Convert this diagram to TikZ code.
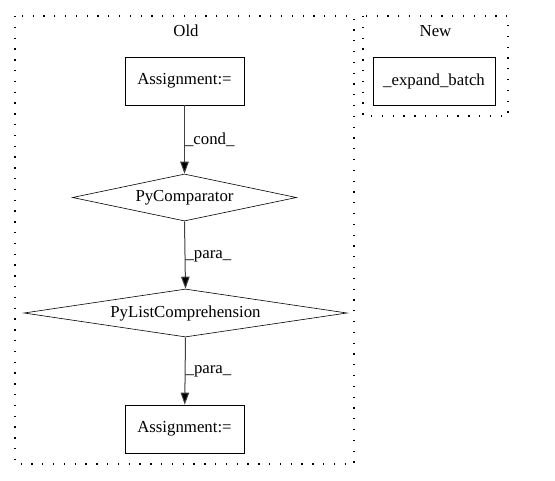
\documentclass[tikz,border=0pt]{standalone}
\usepackage{fontspec}
\setmainfont{Liberation Serif}
\usetikzlibrary{shapes.geometric, arrows.meta}
\tikzstyle{arrow} = [line width=1pt,draw=black!75,-{Triangle[length=12pt,width=8.5pt,fill=black]}]
\tikzstyle{box} = [draw,thick,rectangle,minimum width=119pt,minimum height=48pt,inner sep=0pt]
\tikzstyle{cluster} = [line width=1.3pt,dash pattern=on 1.3pt off 9.5pt]

\begin{document}
\begin{tikzpicture}[x=1pt,y=-1pt,font=\fontsize{16.8pt}{19pt}\selectfont]
            \useasboundingbox (0,0) rectangle (555,480);
            \draw [cluster] (15,16) rectangle (354,464);
            \draw [cluster] (363,16) rectangle (508,116);
            \node (old) at (186,31) {Old};
            \node (new) at (435.5,31) {New};
            \node [box] (assign1) at (184.5,81) {Assignment:=};
            \node [draw,semithick,diamond,aspect=4.8,minimum width=224pt,minimum height=47pt,inner sep=0pt] (comp) at (184.5,197.5) {PyComparator};
            \node [draw,semithick,diamond,aspect=6.7,minimum width=323pt,minimum height=48pt,inner sep=0pt] (listcomp) at (185.5,313) {PyListComprehension};
            \node [box] (assign2) at (184.5,429) {Assignment:=};
            \node [box,minimum width=122pt] (expand) at (434,81) {\_expand\_batch};
            \draw [arrow] (assign1) -- (comp) node[right, pos=0.5, inner sep=0pt, black] {\_cond\_};
            \draw [arrow] (comp.south) -- (listcomp.north) node[right, pos=0.52, inner sep=0pt, black] {\_para\_};
            \draw [arrow] (listcomp.south) -- (assign2) node[right, pos=0.5, inner sep=0pt, black] {\_para\_};
        \end{tikzpicture}
\end{document}
